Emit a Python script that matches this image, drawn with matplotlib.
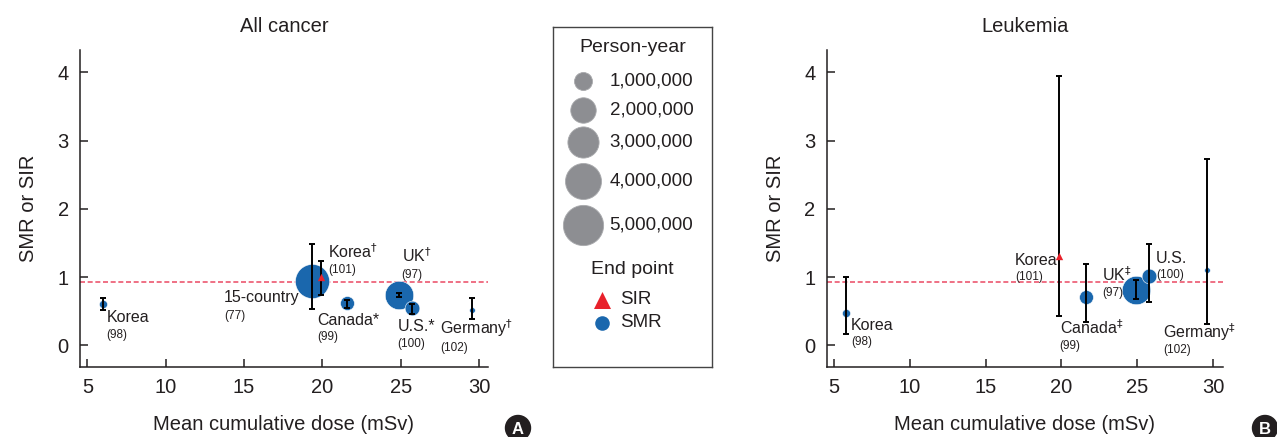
import matplotlib.pyplot as plt
from matplotlib.patches import Circle

plt.rcParams['font.family'] = ['Liberation Sans Narrow', 'Liberation Sans', 'DejaVu Sans']
plt.rcParams['mathtext.fontset'] = 'dejavusans'

BLUE = '#1a67ad'
RED = '#e8212b'
REF = '#ec5870'
GRAY = '#8d8e92'
INK = '#231f20'

# --- data -------------------------------------------------------------
# All cancer
ac_names = ['Korea', '15-country', r'Korea$^{\dagger}$', r'UK$^{\dagger}$',
            'Canada*', 'U.S.*', r'Germany$^{\dagger}$']
ac_refs = ['(98)', '(77)', '(101)', '(97)', '(99)', '(100)', '(102)']
ac_dose = [6.0, 19.35, 19.9, 24.9, 21.6, 25.75, 29.55]
ac_ratio = [0.61, 0.94, 1.00, 0.74, 0.62, 0.54, 0.51]
ac_low = [0.51, 0.53, 0.74, 0.71, 0.54, 0.46, 0.38]
ac_high = [0.69, 1.48, 1.23, 0.77, 0.67, 0.60, 0.69]
ac_end = ['SMR', 'SMR', 'SIR', 'SMR', 'SMR', 'SMR', 'SMR']
ac_py = [0.20e6, 3.6e6, 0, 2.5e6, 0.6e6, 0.67e6, 0.1e6]

# Leukemia
lk_names = ['Korea', 'Korea', r'UK$^{\ddagger}$', 'U.S.',
            r'Canada$^{\ddagger}$', r'Germany$^{\ddagger}$']
lk_refs = ['(98)', '(101)', '(97)', '(100)', '(99)', '(102)']
lk_dose = [5.77, 19.85, 24.9, 25.75, 21.6, 29.62]
lk_ratio = [0.47, 1.31, 0.81, 1.01, 0.70, 1.11]
lk_low = [0.17, 0.43, 0.68, 0.63, 0.34, 0.31]
lk_high = [1.00, 3.95, 0.95, 1.48, 1.19, 2.73]
lk_end = ['SMR', 'SIR', 'SMR', 'SMR', 'SMR', 'SMR']
lk_py = [0.20e6, 0, 2.5e6, 0.67e6, 0.6e6, 0.1e6]

legend_py = [1e6, 2e6, 3e6, 4e6, 5e6]
legend_txt = ['1,000,000', '2,000,000', '3,000,000', '4,000,000', '5,000,000']

ref_line = 0.93

# label anchor (left, baseline of name, baseline of reference), data units
ac_lab = [(6.23, 0.34, 0.10), (13.72, 0.64, 0.39), (20.38, 1.28, 1.06),
          (25.06, 1.22, 0.98), (19.70, 0.29, 0.07), (24.81, 0.205, -0.02),
          (27.51, 0.16, -0.09)]
lk_lab = [(6.12, 0.23, 0.0), (16.95, 1.18, 0.95), (22.66, 0.94, 0.72),
          (26.22, 1.20, 0.99), (19.89, 0.16, -0.06), (26.70, 0.11, -0.11)]


def area(py):
    # marker area (pt^2) proportional to person-years
    return 168 * py / 1e6


def panel(ax, title, names, refs, dose, ratio, low, high, end, py, lab, xlim):
    ax.axhline(ref_line, color=REF, lw=1.2, ls=(0, (3, 1.6)), zorder=1)
    for i in range(len(dose)):
        if end[i] == 'SMR':
            ax.scatter(dose[i], ratio[i], s=area(py[i]), color=BLUE,
                       edgecolor='white', linewidth=0.4, zorder=2)
        else:
            ax.scatter(dose[i], ratio[i], marker='^', s=28, color=RED,
                       linewidth=0, zorder=4)
        ax.errorbar(dose[i], ratio[i],
                    yerr=[[ratio[i] - low[i]], [high[i] - ratio[i]]],
                    fmt='none', ecolor='black', elinewidth=1.4,
                    capsize=2.2, capthick=1.4, zorder=3)
        x, yn, yr = lab[i]
        ax.text(x, yn, names[i], fontsize=11.5, color=INK, va='baseline')
        ax.text(x, yr, refs[i], fontsize=8.5, color=INK, va='baseline')

    ax.set_xlim(*xlim)
    ax.set_ylim(-0.32, 4.33)
    ax.set_xticks([5, 10, 15, 20, 25, 30])
    ax.set_yticks([0, 1, 2, 3, 4])
    ax.spines['top'].set_visible(False)
    ax.spines['right'].set_visible(False)
    for s in ('left', 'bottom'):
        ax.spines[s].set_linewidth(1.1)
        ax.spines[s].set_color(INK)
    ax.tick_params(direction='in', length=6, width=1.1, labelsize=14.5,
                   colors=INK, pad=8)
    ax.set_title(title, fontsize=14.5, pad=13, color=INK)
    ax.set_xlabel('Mean cumulative dose (mSv)', fontsize=14.5, labelpad=13,
                  color=INK)
    ax.set_ylabel('SMR or SIR', fontsize=14.5, labelpad=14, color=INK)


fig = plt.figure(figsize=(12.77, 4.37), dpi=100)
ax1 = fig.add_axes([0.0626, 0.160, 0.3195, 0.726])
ax2 = fig.add_axes([0.6473, 0.160, 0.3105, 0.726])

panel(ax1, 'All cancer', ac_names, ac_refs, ac_dose, ac_ratio, ac_low,
      ac_high, ac_end, ac_py, ac_lab, (4.52, 30.57))
panel(ax2, 'Leukemia', lk_names, lk_refs, lk_dose, lk_ratio, lk_low,
      lk_high, lk_end, lk_py, lk_lab, (4.52, 30.66))

# legend box, laid out in pixel units
leg = fig.add_axes([0.4328, 0.160, 0.1248, 0.779])
leg.set_xlim(552.7, 712)
leg.set_ylim(367.3, 26.7)
leg.set_xticks([])
leg.set_yticks([])
for s in leg.spines.values():
    s.set_linewidth(1.0)
    s.set_color('#444444')
leg.text(632.5, 48, 'Person-year', fontsize=14, ha='center', va='center',
         color=INK)
for yy, py, t in zip([80.7, 110, 141.7, 181, 225], legend_py, legend_txt):
    leg.scatter(583.3, yy, s=area(py), color=GRAY, edgecolor='#a9aaad',
                linewidth=0.6)
    leg.text(609.5, yy, t, fontsize=13.5, va='center', color=INK)
leg.text(632, 270, 'End point', fontsize=14, ha='center', va='center',
         color=INK)
leg.scatter(602.3, 300, marker='^', s=150, color=RED, linewidth=0)
leg.text(620, 300, 'SIR', fontsize=13.5, va='center', color=INK)
leg.scatter(602.3, 322.7, marker='o', s=110, color=BLUE, linewidth=0)
leg.text(620, 322.7, 'SMR', fontsize=13.5, va='center', color=INK)

# panel badges (positions in inches so the circles stay round)
for cx, letter in [(518, 'A'), (1265, 'B')]:
    fig.patches.append(Circle((cx / 100, (437 - 428) / 100), 0.125,
                              transform=fig.dpi_scale_trans, color=INK))
    fig.text(cx / 1277, 1 - 429 / 437, letter, color='white', fontsize=12,
             fontweight='bold', ha='center', va='center',
             family=['Liberation Sans', 'DejaVu Sans'])

fig.savefig('out.png', dpi=100)
